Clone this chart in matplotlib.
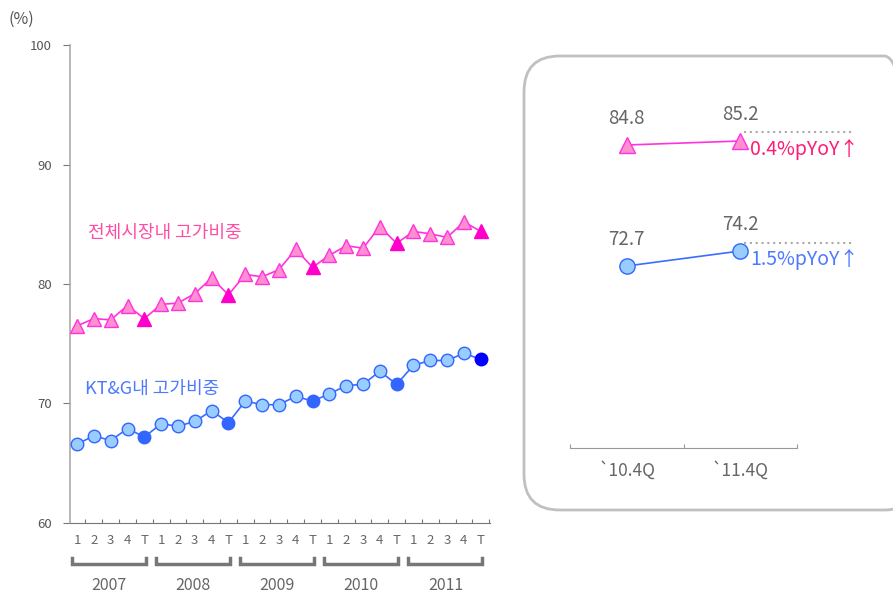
import matplotlib
matplotlib.use("Agg")
import matplotlib.pyplot as plt
from matplotlib.patches import FancyBboxPatch
import matplotlib.transforms as mtransforms

plt.rcParams['font.family'] = ['Noto Sans CJK KR', 'DejaVu Sans']

# 데이터
quarter_labels = ['1', '2', '3', '4', 'T'] * 5
years = ['2007', '2008', '2009', '2010', '2011']
market = [76.5, 77.1, 77.0, 78.2, 77.1, 78.3, 78.4, 79.2, 80.5, 79.1,
          80.8, 80.6, 81.2, 82.9, 81.4, 82.4, 83.2, 83.0, 84.8, 83.4,
          84.4, 84.2, 83.9, 85.2, 84.4]
ktg = [66.6, 67.3, 66.9, 67.9, 67.2, 68.3, 68.1, 68.5, 69.4, 68.4,
       70.2, 69.9, 69.9, 70.6, 70.2, 70.8, 71.5, 71.6, 72.7, 71.6,
       73.2, 73.6, 73.6, 74.2, 73.7]
yticks = [60, 70, 80, 90, 100]

comp_labels = ['`10.4Q', '`11.4Q']
market_q4 = [84.8, 85.2]
ktg_q4 = [72.7, 74.2]
yoy_labels = ['0.4%pYoY↑', '1.5%pYoY↑']

W, H = 893, 597
fig = plt.figure(figsize=(W / 100, H / 100), dpi=100)


def fx(px):
    return px / W


def fy(py):
    return 1 - py / H


GRAY = '#777777'
TXT = '#666666'
PINK_LINE = '#ff33dd'
PINK_FILL = '#ff8fcf'
PINK_T = '#ff00cc'
BLUE_LINE = '#3a6dff'
BLUE_FILL = '#99ccff'
BLUE_T = '#3366ff'

# 오른쪽 패널 테두리 (맨 뒤)
box = FancyBboxPatch((fx(524), fy(510)), fx(920) - fx(524), fy(56) - fy(510),
                     boxstyle='round,pad=0,rounding_size=0.04',
                     transform=fig.transFigure, facecolor='none',
                     edgecolor='#c0c0c0', lw=2, zorder=-5, mutation_aspect=W / H)
fig.patches.append(box)

# 왼쪽 차트
ax = fig.add_axes([fx(70), fy(523), fx(490) - fx(70), fy(45) - fy(523)])
ax.patch.set_alpha(0)
x = list(range(len(market)))
ax.plot(x, market, color=PINK_LINE, lw=1.2, zorder=2)
ax.plot(x, ktg, color=BLUE_LINE, lw=1.2, zorder=2)
for i in x:
    if quarter_labels[i] == 'T':
        ax.plot(i, market[i], marker='^', ms=10, mfc=PINK_T, mec=PINK_T, zorder=3)
        c = '#0000ff' if i == len(x) - 1 else BLUE_T
        ax.plot(i, ktg[i], marker='o', ms=9, mfc=c, mec=c, zorder=3)
    else:
        ax.plot(i, market[i], marker='^', ms=10, mfc=PINK_FILL, mec=PINK_LINE, mew=1, zorder=3)
        ax.plot(i, ktg[i], marker='o', ms=9, mfc=BLUE_FILL, mec=BLUE_T, mew=1, zorder=3)

ax.set_xlim(-0.42, 24.55)
ax.set_ylim(60, 100)
ax.set_yticks(yticks)
ax.set_yticklabels([str(v) for v in yticks], fontsize=9.5, color='#555555')
ax.tick_params(axis='y', length=5, color=GRAY, pad=8)
ax.set_xticks([i + 0.5 for i in range(len(x))])
ax.set_xticklabels([])
ax.tick_params(axis='x', direction='in', length=3, color=GRAY)
for s in ['top', 'right']:
    ax.spines[s].set_visible(False)
ax.spines['left'].set_color('#aaaaaa')
ax.spines['bottom'].set_color(GRAY)
ax.spines['left'].set_linewidth(1.2)
ax.spines['bottom'].set_linewidth(0.8)

trans = mtransforms.blended_transform_factory(ax.transData, fig.transFigure)
for i, q in enumerate(quarter_labels):
    ax.text(i, fy(541), q, transform=trans, fontsize=9.5, color=TXT,
            ha='center', va='center', clip_on=False)
for k, yr in enumerate(years):
    x0 = k * 5 - 0.3
    x1 = k * 5 + 4.1
    ax.plot([x0, x0, x1, x1], [fy(558), fy(564), fy(564), fy(558)], transform=trans,
            color='#777777', lw=2.5, clip_on=False, solid_joinstyle='miter')
    ax.text(k * 5 + 1.9, fy(586), yr, transform=trans, fontsize=11.5, color=TXT,
            ha='center', va='center', clip_on=False)

fig.text(fx(8), fy(19), '(%)', fontsize=11.5, color='#555555', va='center')
ax.text(0.65, 84.3, '전체시장내 고가비중', fontsize=13, color='#ff4da6', va='center')
ax.text(0.45, 71.2, 'KT&G내 고가비중', fontsize=13, color='#4d79ff', va='center')

ax2 = fig.add_axes([fx(570), fy(448), fx(797) - fx(570), fy(100) - fy(448)])
ax2.patch.set_alpha(0)
ax2.plot([0, 1], market_q4, color=PINK_LINE, lw=1.2)
ax2.plot([0, 1], market_q4, ls='none', marker='^', ms=11, mfc=PINK_FILL, mec=PINK_LINE)
ax2.plot([0, 1], ktg_q4, color=BLUE_LINE, lw=1.2)
ax2.plot([0, 1], ktg_q4, ls='none', marker='o', ms=11, mfc=BLUE_FILL, mec=BLUE_T)
ax2.set_xlim(-0.5, 1.5)
ax2.set_ylim(54.5, 89.3)
for s in ['top', 'right', 'left']:
    ax2.spines[s].set_visible(False)
ax2.spines['bottom'].set_color('#999999')
ax2.set_yticks([])
ax2.set_xticks([-0.5, 0.5, 1.5])
ax2.set_xticklabels([])
ax2.tick_params(axis='x', direction='in', length=3, color='#999999')
for i, lab in enumerate(comp_labels):
    ax2.text(i, -0.065, lab, transform=ax2.get_xaxis_transform(), fontsize=12.5,
             color=TXT, ha='center', va='center')

for vals, dy in [(market_q4, 0.9), (ktg_q4, 0.8)]:
    for i, v in enumerate(vals):
        ax2.annotate(f'{v:.1f}', (i, v), xytext=(0, 19), textcoords='offset points',
                     fontsize=13.5, color='#666666', ha='center', va='center')
    ax2.plot([1.03, 1.99], [vals[1] + dy, vals[1] + dy], color='#aaaaaa',
             ls=(0, (1, 1.8)), lw=1.5, clip_on=False)
yoy_y = [market_q4[1], ktg_q4[1]]
for lab, v, col in zip(yoy_labels, yoy_y, ['#ff1a75', '#4d79ff']):
    ax2.annotate(lab, (1, v), xytext=(7, -6), textcoords='offset points',
                 fontsize=14, color=col, ha='left', va='center', annotation_clip=False)

fig.savefig('out.png', dpi=100)
